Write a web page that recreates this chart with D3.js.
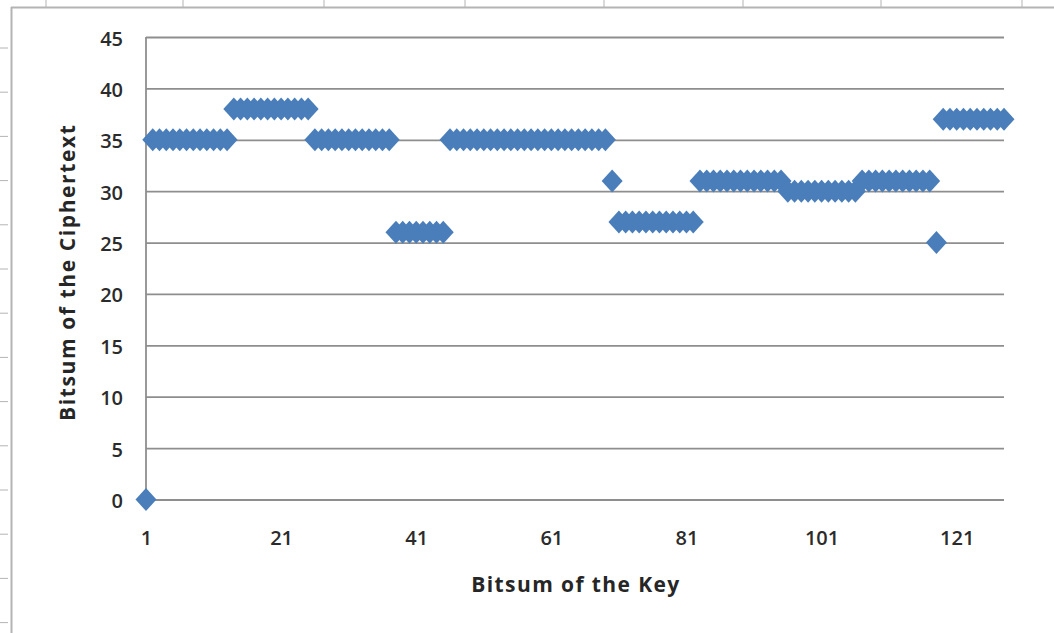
<!DOCTYPE html>
<html>
<head>
<meta charset="utf-8">
<script src="https://cdn.jsdelivr.net/npm/d3@7"></script>
<style>
  html, body { margin: 0; padding: 0; background: #ffffff; }
  svg { display: block; }
  text { font-family: "Open Sans", "Noto Sans", sans-serif; }
</style>
</head>
<body>
<script>
// Bitsum of the key (categories) and the resulting ciphertext bitsum
const keyBitsum = d3.range(1, 129);
const cipherBitsum = [
  0,
  35, 35, 35, 35, 35, 35, 35, 35, 35, 35, 35, 35,
  38, 38, 38, 38, 38, 38, 38, 38, 38, 38, 38, 38,
  35, 35, 35, 35, 35, 35, 35, 35, 35, 35, 35, 35,
  26, 26, 26, 26, 26, 26, 26, 26,
  35, 35, 35, 35, 35, 35, 35, 35, 35, 35, 35, 35,
  35, 35, 35, 35, 35, 35, 35, 35, 35, 35, 35, 35,
  31,
  27, 27, 27, 27, 27, 27, 27, 27, 27, 27, 27, 27,
  31, 31, 31, 31, 31, 31, 31, 31, 31, 31, 31, 31, 31,
  30, 30, 30, 30, 30, 30, 30, 30, 30, 30, 30,
  31, 31, 31, 31, 31, 31, 31, 31, 31, 31, 31,
  25,
  37, 37, 37, 37, 37, 37, 37, 37, 37, 37
];
const xTickLabels = [1, 21, 41, 61, 81, 101, 121];
const yTickLabels = [0, 5, 10, 15, 20, 25, 30, 35, 40, 45];
const xTitle = "Bitsum of the Key";
const yTitle = "Bitsum of the Ciphertext";

const W = 1054, H = 633;
const plot = { left: 146, right: 1004, top: 37, bottom: 499.5 };

const svg = d3.select("body").append("svg")
  .attr("width", W).attr("height", H);

svg.append("rect").attr("width", W).attr("height", H).attr("fill", "#ffffff");

// Worksheet frame around the chart object
const frame = svg.append("g").attr("stroke", "#b4b4b4").attr("fill", "none");
frame.append("line").attr("x1", 11).attr("x2", W).attr("y1", 7.5).attr("y2", 7.5).attr("stroke-width", 2);
frame.append("line").attr("x1", 11.5).attr("x2", 11.5).attr("y1", 7).attr("y2", H).attr("stroke-width", 2);
[46, 183, 324, 465, 604, 743, 881, 1022].forEach(x => {
  frame.append("line").attr("x1", x).attr("x2", x).attr("y1", 0).attr("y2", 7).attr("stroke-width", 1);
});
d3.range(48, H, 44.2).forEach(y => {
  frame.append("line").attr("x1", 0).attr("x2", 8).attr("y1", y).attr("y2", y).attr("stroke-width", 1);
});

const x = d3.scaleLinear().domain([1, 128]).range([plot.left, plot.right]);
const y = d3.scaleLinear().domain([0, 45]).range([plot.bottom, plot.top]);

// Horizontal gridlines
const grid = svg.append("g")
  .attr("transform", `translate(${plot.left},0)`)
  .call(d3.axisLeft(y).tickValues(yTickLabels).tickSize(-(plot.right - plot.left)).tickFormat(""));
grid.select(".domain").remove();
grid.selectAll(".tick line").attr("stroke", "#8e8e8e").attr("stroke-width", 1.8);

// Vertical axis line
svg.append("line")
  .attr("x1", plot.left).attr("x2", plot.left)
  .attr("y1", plot.top).attr("y2", plot.bottom)
  .attr("stroke", "#8e8e8e").attr("stroke-width", 1.8);

// Y tick labels
const yAxis = svg.append("g")
  .attr("transform", `translate(${plot.left},0)`)
  .call(d3.axisLeft(y).tickValues(yTickLabels).tickSize(0).tickPadding(23));
yAxis.select(".domain").remove();
yAxis.selectAll("text")
  .attr("font-size", 20).attr("font-weight", 600).attr("fill", "#2b2b2b")
  .attr("font-family", "'Open Sans', sans-serif")
  .attr("dy", "0.4em");

// X tick labels
const xAxis = svg.append("g")
  .attr("transform", `translate(0,${plot.bottom})`)
  .call(d3.axisBottom(x).tickValues(xTickLabels).tickSize(0).tickPadding(45));
xAxis.select(".domain").remove();
xAxis.selectAll("text")
  .attr("font-size", 20).attr("font-weight", 600).attr("fill", "#2b2b2b")
  .attr("font-family", "'Open Sans', sans-serif")
  .attr("dy", "0.0em");

// Axis titles
svg.append("text")
  .attr("x", (plot.left + plot.right) / 2 + 1).attr("y", 592)
  .attr("text-anchor", "middle")
  .attr("font-size", 21).attr("font-weight", "bold").attr("fill", "#262626")
  .attr("letter-spacing", 1.4)
  .text(xTitle);

svg.append("text")
  .attr("transform", `translate(75,${(plot.top + plot.bottom) / 2 + 4}) rotate(-90)`)
  .attr("text-anchor", "middle")
  .attr("font-size", 21).attr("font-weight", "bold").attr("fill", "#262626")
  .attr("letter-spacing", 1.6)
  .text(yTitle);

// Diamond markers
const hw = 10.5, hh = 11.5;
const diamond = `M0,${-hh}L${hw},0L0,${hh}L${-hw},0Z`;
svg.append("g").selectAll("path")
  .data(keyBitsum.map((k, i) => ({ k, v: cipherBitsum[i] })))
  .join("path")
  .attr("d", diamond)
  .attr("transform", d => `translate(${x(d.k)},${y(d.v)})`)
  .attr("fill", "#4a7ebb");
</script>
</body>
</html>
